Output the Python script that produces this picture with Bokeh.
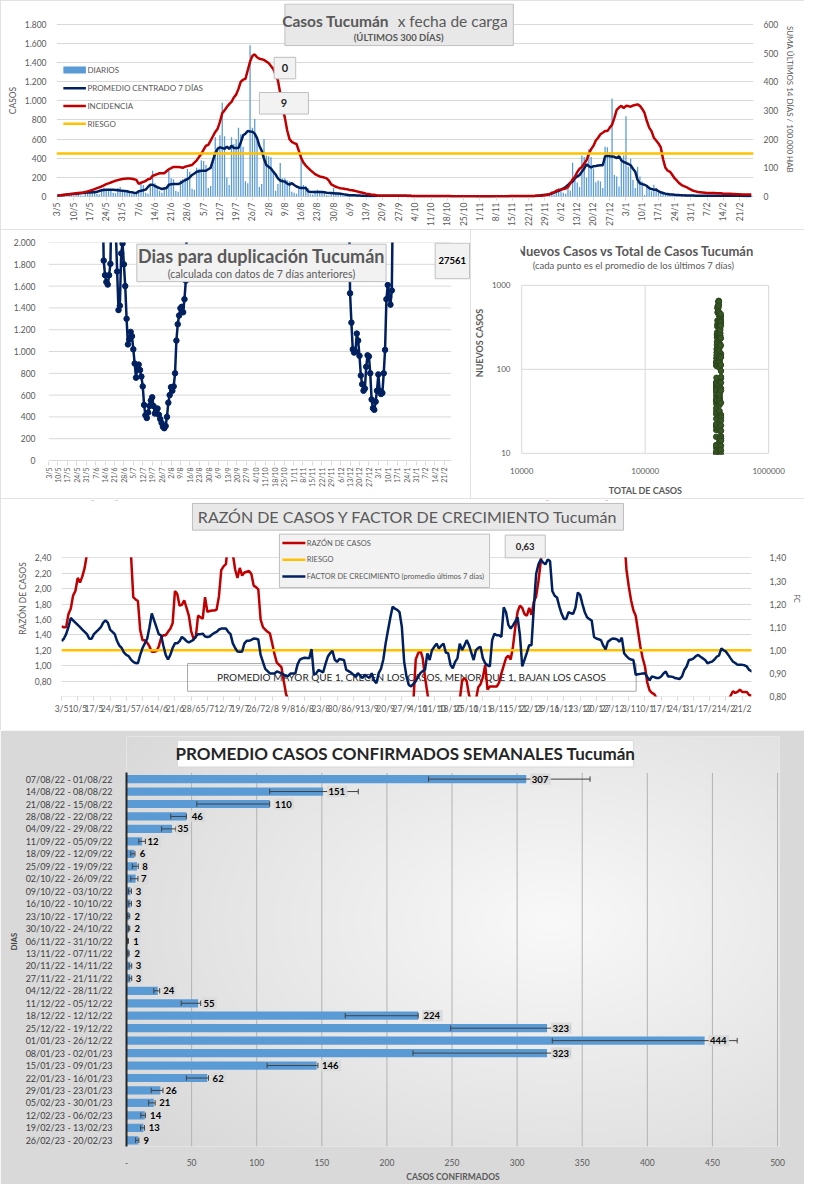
import numpy as np
import pandas as pd
from bokeh.plotting import figure
from bokeh.layouts import column, row
from bokeh.models import Range1d, LinearAxis, FixedTicker, ColumnDataSource, Span, CustomJSTickFormatter
from bokeh.core.properties import value
from bokeh.embed import file_html
from bokeh.resources import INLINE

nan = float("nan")

# ------------------------------------------------------------------ DATA
date_labels = ["3/5", "10/5", "17/5", "24/5", "31/5", "7/6", "14/6", "21/6", "28/6", "5/7", "12/7",
               "19/7", "26/7", "2/8", "9/8", "16/8", "23/8", "30/8", "6/9", "13/9", "20/9", "27/9",
               "4/10", "11/10", "18/10", "25/10", "1/11", "8/11", "15/11", "22/11", "29/11", "6/12",
               "13/12", "20/12", "27/12", "3/1", "10/1", "17/1", "24/1", "31/1", "7/2", "14/2", "21/2"]

# casos diarios (3/5/2022 ... 26/2/2023)
diarios = [
    8, 12, 15, 5, 3, 20, 25,
    30, 35, 28, 10, 8, 45, 50,
    45, 55, 60, 30, 20, 80, 95,
    75, 80, 70, 40, 35, 90, 100,
    60, 55, 50, 35, 25, 40, 45,
    50, 150, 120, 40, 30, 120, 270,
    140, 110, 60, 40, 100, 110, 270,
    190, 180, 60, 50, 170, 180, 190,
    290, 260, 80, 70, 300, 290, 380,
    370, 330, 90, 110, 360, 620, 520,
    640, 980, 630, 200, 120, 620, 550,
    600, 720, 650, 520, 160, 140, 1580,
    720, 810, 580, 100, 130, 600, 430,
    420, 410, 250, 60, 130, 350, 190,
    190, 170, 160, 50, 40, 30, 100,
    460, 120, 110, 90, 25, 20, 60,
    70, 60, 55, 40, 15, 10, 45,
    90, 50, 40, 35, 10, 8, 30,
    20, 15, 12, 10, 4, 3, 12,
    10, 8, 7, 5, 2, 2, 8,
    9, 8, 7, 6, 2, 2, 6,
    9, 8, 9, 7, 3, 2, 6,
    4, 4, 3, 3, 1, 1, 3,
    4, 3, 3, 3, 1, 1, 2,
    3, 2, 2, 2, 1, 1, 2,
    3, 2, 2, 2, 1, 1, 2,
    2, 1, 1, 1, 0, 0, 1,
    2, 2, 2, 2, 1, 1, 2,
    3, 3, 4, 3, 1, 1, 3,
    4, 3, 5, 3, 2, 10, 12,
    15, 20, 30, 54, 20, 72, 88,
    54, 40, 30, 106, 60, 354, 225,
    146, 100, 429, 412, 200, 497, 412,
    293, 150, 167, 157, 90, 521, 514,
    463, 1025, 225, 208, 106, 361, 429,
    838, 310, 395, 174, 88, 310, 208,
    157, 17, 123, 106, 54, 123, 89,
    37, 37, 40, 35, 30, 12, 10,
    25, 20, 18, 15, 12, 5, 4,
    12, 10, 10, 9, 8, 3, 3,
    9, 10, 8, 7, 6, 2, 2,
    7, 8, 7, 6, 5, 2, 2,
    6, 7, 6, 5, 2, 2,
]

promedio_7d = [
    10, 12, 14, 17, 20, 23, 27,
    28, 30, 32, 35, 37, 39, 41,
    42, 44, 45, 50, 58, 65, 68,
    70, 72, 72, 70, 68, 65, 62,
    60, 58, 55, 48, 44, 40, 37,
    55, 60, 66, 72, 100, 123, 123,
    110, 99, 88, 79, 84, 89, 123,
    128, 130, 130, 130, 140, 157, 170,
    181, 200, 225, 240, 259, 265, 269,
    269, 269, 285, 300, 378, 453, 497,
    514, 508, 497, 521, 497, 531, 507,
    507, 507, 565, 640, 657, 685, 680,
    678, 657, 610, 531, 480, 395, 330,
    310, 293, 260, 230, 190, 167, 160,
    157, 135, 123, 140, 120, 105, 95,
    89, 89, 89, 54, 48, 48, 48,
    48, 48, 47, 45, 40, 37, 36,
    35, 32, 31, 28, 25, 20, 17,
    14, 13, 12, 11, 10, 8, 7,
    6, 6, 6, 6, 6, 7, 7,
    8, 8, 8, 8, 8, 8, 7,
    7, 7, 7, 7, 6, 5, 4,
    3, 3, 3, 3, 3, 3, 3,
    3, 3, 3, 3, 3, 2, 2,
    2, 2, 2, 2, 2, 2, 2,
    2, 2, 2, 2, 2, 2, 1,
    1, 1, 1, 1, 1, 1, 1,
    2, 2, 2, 2, 2, 2, 2,
    3, 3, 3, 3, 3, 3, 3,
    3, 3, 4, 6, 9, 12, 15,
    17, 20, 24, 30, 40, 51, 60,
    72, 85, 100, 120, 146, 157, 190,
    208, 225, 260, 293, 337, 317, 303,
    317, 320, 324, 327, 327, 419, 426,
    422, 419, 415, 402, 422, 378, 361,
    351, 340, 327, 290, 259, 174, 139,
    130, 123, 110, 88, 78, 72, 72,
    55, 44, 37, 30, 27, 22, 20,
    18, 17, 15, 14, 12, 11, 10,
    10, 10, 9, 9, 8, 8, 8,
    8, 8, 8, 8, 8, 8, 7,
    7, 7, 7, 7, 7, 7, 7,
    7, 7, 6, 6, 6, 5,
]

# incidencia: suma ultimos 14 dias / 100.000 hab
incidencia = [
    3, 4, 5, 6, 7, 8, 9,
    10, 11, 12, 13, 14, 16, 18,
    20, 23, 26, 29, 32, 35, 39,
    43, 46, 49, 52, 55, 57, 59,
    61, 62, 63, 63, 62, 60, 58,
    44, 48, 51, 54, 60, 62, 72,
    75, 78, 81, 81, 81, 88, 95,
    99, 103, 103, 103, 102, 100, 104,
    106, 108, 110, 118, 126, 138, 149,
    163, 177, 180, 195, 210, 225, 236,
    260, 290, 300, 312, 322, 330, 345,
    355, 375, 400, 407, 410, 440, 470,
    490, 495, 485, 480, 478, 476, 470,
    465, 455, 444, 425, 404, 360, 310,
    274, 230, 200, 190, 186, 183, 160,
    135, 118, 108, 100, 92, 85, 78,
    74, 70, 68, 66, 63, 55, 42,
    38, 34, 31, 29, 28, 26, 25,
    23, 22, 20, 18, 16, 14, 12,
    10, 9, 7, 6, 5, 3, 3,
    3, 3, 3, 3, 3, 3, 3,
    3, 3, 3, 3, 3, 3, 2,
    2, 2, 2, 2, 2, 2, 2,
    2, 2, 2, 2, 2, 2, 2,
    2, 2, 1, 1, 1, 1, 1,
    1, 1, 1, 1, 1, 1, 1,
    1, 1, 1, 1, 1, 1, 1,
    1, 1, 1, 1, 1, 1, 2,
    2, 2, 2, 2, 2, 2, 2,
    2, 2, 2, 3, 3, 3, 3,
    5, 6, 8, 12, 15, 20, 22,
    24, 26, 28, 33, 46, 60, 69,
    85, 97, 103, 115, 126, 149, 165,
    177, 195, 205, 217, 222, 228, 228,
    240, 250, 274, 302, 310, 316, 308,
    316, 315, 313, 317, 319, 321, 316,
    305, 291, 263, 240, 228, 205, 195,
    185, 171, 130, 100, 90, 86, 75,
    63, 55, 46, 40, 36, 33, 28,
    24, 20, 18, 16, 15, 14, 13,
    12, 12, 12, 12, 11, 11, 11,
    10, 10, 10, 10, 9, 9, 8,
    8, 7, 7, 7, 7, 7,
]
riesgo_incidencia = 150

# dias para duplicacion (solo tramos con datos)
dias_duplicacion = ([nan] * 40 + [
    2600, 1834, 1700, 1638, 1614, 1700, 1804, 2600, 3200, 3000,
    2100, 1734, 1380, 1420, 1900, 1990, 1800, 1600, 1300, 1065,
    1110, 1180, 1140, 1020, 890, 760, 850, 880, 830, 770,
    680, 510, 416, 390, 440, 500, 550, 580, 500, 431,
    460, 477, 420, 380, 345, 310, 296, 317, 400, 530,
    600, 673, 640, 680, 800, 1100, 1250, 1330, 1397, 1410,
    1360, 1480, 1650, 2400] + [nan] * 119 + [
    2600, 1534, 1265, 1020, 990, 1000, 1165, 1100, 960, 780,
    700, 640, 660, 860, 965, 955, 800, 560, 480, 465,
    540, 640, 790, 640, 610, 620, 800, 1015, 1480, 1610,
    1500, 1430, 1560, 2600] + [nan] * 43)

razon_casos = [
    1.51, 1.50, 1.50, 1.67, 1.74, 1.91, 1.97, 2.14, 2.08, 2.16, 2.27, 2.45,
    2.7, 3.0, 3.3, 3.6, 3.9, 4.1, 4.2, 4.1, 3.9, 3.7, 3.5, 3.3, 3.1, 3.0, 2.9, 2.8, 2.7, 2.6,
    2.45, 1.89, 1.86, 1.84, 1.46, 1.33, 1.33, 1.30, 1.25, 1.18, 1.18, 1.19,
    1.25, 1.36, 1.395, 1.395, 1.44, 1.48, 1.55, 1.97, 1.93, 1.78,
    1.79, 1.85, 1.75, 1.65, 1.45, 1.35, 1.37, 1.65, 1.63, 1.61,
    1.89, 1.70, 1.71, 1.716, 1.716, 1.73, 1.90, 2.24, 2.29, 2.32,
    2.6, 2.6, 2.45, 2.25, 2.14, 2.27, 2.17, 2.21, 2.22, 2.23,
    2.19, 2.04, 2.02, 1.99, 1.60, 1.50, 1.47, 1.44, 1.42, 1.29,
    1.15, 1.04, 1.01, 0.98, 0.80, 0.63,
    0.55, 0.50, 0.47, 0.45, 0.42, 0.40, 0.38, 0.37, 0.36, 0.35,
    0.34, 0.33, 0.33, 0.32, 0.32, 0.31, 0.31, 0.30, 0.30, 0.30,
    0.30, 0.29, 0.29, 0.28, 0.28, 0.28, 0.27, 0.27, 0.27, 0.26,
    0.26, 0.26, 0.27, 0.28, 0.30, 0.32, 0.35, 0.38, 0.40, 0.42,
    0.45, 0.47, 0.50, 0.52, 0.53, 0.54, 0.54, 0.53, 0.52, 0.52,
    0.51, 0.50, 0.50, 0.52, 0.54,
    1.08, 1.16, 1.20, 1.10, 0.85, 0.65, 0.45,
    0.45, 0.42, 0.40, 0.40, 0.41, 0.43, 0.45, 0.48, 0.50, 0.52, 0.53, 0.54, 0.55,
    0.80, 0.84, 0.80, 0.62,
    0.55, 0.52, 0.56,
    0.72, 0.76, 0.85, 1.01, 0.69, 0.73, 0.73, 0.73, 0.73, 0.78,
    0.90, 1.0, 1.10, 1.13, 1.08, 1.25, 1.50, 1.70, 1.78, 1.75,
    1.67, 1.65, 1.75, 1.66, 1.83, 1.90, 2.10, 2.35, 2.7,
    2.9, 3.2, 3.5, 3.8, 4.1, 4.3, 4.5, 4.6, 4.7, 4.8,
    4.9, 5.0, 5.1, 5.0, 4.9, 4.8, 4.6, 4.4, 4.2, 4.0,
    3.8, 3.7, 3.6, 3.5, 3.4, 3.3, 3.2, 3.1, 3.0, 2.95,
    2.9, 2.85, 2.8, 2.75,
    2.7, 2.25, 2.03, 1.85, 1.72, 1.65, 1.45, 1.25, 1.10, 0.99, 0.78, 0.68, 0.647, 0.63, 0.58,
    0.55, 0.52, 0.50, 0.48, 0.47, 0.46, 0.45, 0.45, 0.46, 0.47,
    0.48, 0.49, 0.50, 0.51, 0.52, 0.53, 0.54, 0.54, 0.53, 0.52,
    0.52, 0.51, 0.50, 0.50, 0.51, 0.52, 0.53, 0.54, 0.54, 0.55, 0.55,
    0.61, 0.668, 0.647, 0.66, 0.69, 0.66, 0.66, 0.66, 0.62, 0.61, nan,
]

factor_crecimiento = [
    1.04, 1.05, 1.07, 1.10, 1.14, 1.13, 1.12, 1.11, 1.10, 1.09,
    1.08, 1.07, 1.05, 1.05, 1.07, 1.08, 1.09, 1.10, 1.12, 1.13,
    1.12, 1.09, 1.08, 1.07, 1.04, 1.02, 1.01, 0.99, 0.98, 0.975,
    0.96, 0.95, 0.945, 0.944, 0.98, 1.01, 1.03, 1.05, 1.10, 1.16,
    1.13, 1.10, 1.07, 1.065, 1.02, 0.98, 0.96, 0.98, 1.01, 1.03,
    1.03, 1.04, 1.058, 1.05, 1.04, 1.034, 1.04, 1.045, 1.06, 1.07,
    1.07, 1.072, 1.06, 1.058, 1.06, 1.068, 1.075, 1.08, 1.09, 1.094,
    1.094, 1.094, 1.08, 1.07, 1.03, 1.01, 0.995, 0.994, 0.994, 1.03,
    1.041, 1.041, 1.045, 1.051, 1.05, 1.047, 0.98, 0.95, 0.92, 0.91,
    0.90, 0.90, 0.90, 0.908, 0.905, 0.90, 0.895, 0.887, 0.89, 0.90,
    0.90, 0.90, 0.94, 0.96, 0.965, 0.968, 0.967, 0.965, 1.005, 0.894,
    0.90, 0.915, 0.91, 0.904, 0.94, 0.972, 0.987, 0.998, 0.96, 0.95,
    0.962, 0.96, 0.958, 0.915, 0.91, 0.904, 0.895, 0.887, 0.901, 0.89,
    0.880, 0.894, 0.887, 0.880, 0.901, 0.87, 0.858, 0.901, 0.92, 0.96,
    1.03, 1.086, 1.14, 1.189, 1.18, 1.175, 1.165, 1.101, 0.95, 0.887,
    0.85, 0.844, 0.855, 0.866, 0.885, 0.901, 0.91, 0.915, 0.987, 0.958,
    1.0, 1.015, 1.029, 1.008, 1.02, 1.029, 0.99, 0.987, 0.937, 0.922,
    0.95, 0.965, 1.029, 1.001, 1.02, 1.044, 1.022, 0.99, 0.958, 1.001,
    1.01, 1.015, 0.965, 0.944, 0.935, 0.93, 1.044, 1.072, 1.065, 1.065,
    1.058, 1.186, 1.165, 1.11, 1.094, 1.108, 1.125, 1.143, 1.065, 0.93,
    0.96, 0.99, 1.022, 1.022, 1.186, 1.33, 1.372, 1.393, 1.38, 1.372,
    1.393, 1.386, 1.257, 1.236, 1.229, 1.19, 1.158, 1.136, 1.136, 1.165,
    1.16, 1.158, 1.186, 1.250, 1.240, 1.20, 1.165, 1.143, 1.135, 1.129,
    1.058, 1.051, 1.048, 1.044, 1.02, 1.004, 1.037, 1.045, 1.051, 1.05,
    1.047, 1.037, 1.055, 0.987, 0.975, 0.965, 0.96, 0.958, 0.894, 0.896,
    0.898, 0.90, 0.901, 0.885, 0.870, 0.887, 0.884, 0.880, 0.880, 0.887,
    0.90, 0.908, 0.887, 0.887, 0.885, 0.880, 0.878, 0.876, 0.887, 0.915,
    0.93, 0.958, 0.96, 0.965, 0.975, 0.980, 0.972, 0.965, 0.958, 0.944,
    0.948, 0.951, 0.96, 0.972, 0.978, 1.008, 1.0, 0.994, 0.98, 0.965,
    0.951, 0.945, 0.937, 0.937, 0.937, 0.935, 0.930, 0.915, 0.91, 0.905,
]
riesgo_razon = 1.2

casos_acumulados_inicio = 376000

week_labels = ["07/08/22 - 01/08/22", "14/08/22 - 08/08/22", "21/08/22 - 15/08/22", "28/08/22 - 22/08/22",
               "04/09/22 - 29/08/22", "11/09/22 - 05/09/22", "18/09/22 - 12/09/22", "25/09/22 - 19/09/22",
               "02/10/22 - 26/09/22", "09/10/22 - 03/10/22", "16/10/22 - 10/10/22", "23/10/22 - 17/10/22",
               "30/10/22 - 24/10/22", "06/11/22 - 31/10/22", "13/11/22 - 07/11/22", "20/11/22 - 14/11/22",
               "27/11/22 - 21/11/22", "04/12/22 - 28/11/22", "11/12/22 - 05/12/22", "18/12/22 - 12/12/22",
               "25/12/22 - 19/12/22", "01/01/23 - 26/12/22", "08/01/23 - 02/01/23", "15/01/23 - 09/01/23",
               "22/01/23 - 16/01/23", "29/01/23 - 23/01/23", "05/02/23 - 30/01/23", "12/02/23 - 06/02/23",
               "19/02/23 - 13/02/23", "26/02/23 - 20/02/23"]
week_avg = [307, 151, 110, 46, 35, 12, 6, 8, 7, 3, 3, 2, 2, 1, 2, 3, 3, 24, 55, 224, 323, 444, 323, 146, 62, 26, 21, 14, 13, 9]
err_low = [232, 110, 54, 34, 27, 9.5, 3.3, 4.5, 3.3, 1.5, 1.8, 1.0, 1.5, 0.8, 1.0, 2.0, 2.0, 21, 42, 168,
           249, 327, 220, 108, 46, 19, 17, 11, 10.8, 7]
err_high = [356, 178, 110, 46, 38, 14.5, 6.5, 9, 8.8, 3.8, 3.8, 2.5, 2.5, 1.5, 2.0, 4.0, 4.0, 25.5, 57, 224,
            341, 469, 341, 147, 63, 28, 22, 14.5, 13.8, 9.5]

ticks_casos = [0, 200, 400, 600, 800, 1000, 1200, 1400, 1600, 1800]
ticks_incid = [0, 100, 200, 300, 400, 500, 600]
ticks_dup = [0, 200, 400, 600, 800, 1000, 1200, 1400, 1600, 1800, 2000]
ticks_razon = [0.6, 0.8, 1.0, 1.2, 1.4, 1.6, 1.8, 2.0, 2.2, 2.4]
ticks_fc = [0.8, 0.9, 1.0, 1.1, 1.2, 1.3, 1.4]
ticks_semana = [0, 50, 100, 150, 200, 250, 300, 350, 400, 450, 500]


def fit300(a):
    a = list(a)[:300]
    return np.array(a + [nan] * (300 - len(a)), dtype=float)


diarios = fit300(diarios)
promedio_7d = fit300(promedio_7d)
incidencia = fit300(incidencia)
dias_duplicacion = fit300(dias_duplicacion)
razon_casos = fit300(razon_casos)
factor_crecimiento = fit300(factor_crecimiento)
days = np.arange(300)
date_ticks = [7 * i for i in range(len(date_labels))]

# ------------------------------------------------------------------ STYLE / HELPERS
FONT = "Lato"
TXT = "#595959"
GRID = "#d9d9d9"
SX = 804 / 820
SY = 1184 / 1200

THOUS = CustomJSTickFormatter(code="""
const t = Math.round(tick);
if (t >= 1000) { return Math.floor(t/1000) + "." + String(t % 1000).padStart(3, "0"); }
return String(t);""")


def comma2():
    return CustomJSTickFormatter(code='return tick.toFixed(2).replace(".", ",");')


def frame(ox, oy, W, H, fl, fr, ft, fb, xa, xb, ya, yb, xlog=False, ylog=False, outline=True):
    def tx(r):
        t = (r - xa) / xb
        return 10 ** t if xlog else t

    def ty(r):
        t = (r - ya) / yb
        return 10 ** t if ylog else t

    p = figure(width=W, height=H,
               x_range=Range1d(tx(fl), tx(fr)), y_range=Range1d(ty(fb), ty(ft)),
               x_axis_type="log" if xlog else "linear",
               y_axis_type="log" if ylog else "linear",
               min_border_left=round((fl - ox) * SX),
               min_border_right=W - round((fr - ox) * SX),
               min_border_top=round((ft - oy) * SY),
               min_border_bottom=H - round((fb - oy) * SY),
               output_backend="svg", toolbar_location=None)
    p.outline_line_color = None
    try:
        p.frame_align = False
    except Exception:
        pass
    if outline:
        try:
            p.styles = {"outline": "1px solid #d9d9d9", "outline-offset": "-1px"}
        except Exception:
            pass
    return p, tx, ty


def style_axis(ax, size, color=TXT, label_size=8, bold_label=False):
    ax.major_label_text_font = FONT
    ax.major_label_text_font_size = f"{size}px"
    ax.major_label_text_color = color
    ax.axis_label_text_font = FONT
    ax.axis_label_text_font_size = f"{label_size}px"
    ax.axis_label_text_font_style = "bold" if bold_label else "normal"
    ax.axis_label_text_color = color
    ax.minor_tick_line_color = None
    ax.major_tick_line_color = None
    ax.axis_line_color = None
    ax.major_label_standoff = 4
    ax.axis_label_standoff = 4


def put_text(p, x, y, s, size, color=TXT, bold=False, align="center", angle=0.0):
    p.text(x=[x], y=[y], text=[s], text_font=value(FONT), text_font_size=value(f"{size}px"),
           text_color=color, text_font_style="bold" if bold else "normal",
           text_align=align, text_baseline="middle", angle=angle)


def put_box(p, l, r, t, b, fill, line):
    p.quad(left=[l], right=[r], top=[t], bottom=[b], fill_color=fill, line_color=line, line_width=1)


# ------------------------------------------------------------------ PANEL A : casos diarios
pA, ax_, ay_ = frame(0, 0, 804, 229, 57, 768, 3, 201.3, 58, 2.367, 200.3, -0.0978)
pA.extra_y_ranges = {"r": Range1d(pA.y_range.start / 3, pA.y_range.end / 3)}
pA.add_layout(LinearAxis(y_range_name="r"), "right")

pA.vbar(x=days, top=diarios, width=0.55, fill_color="#5b9bd5", line_color=None)
pA.line(days, promedio_7d, line_color="#002060", line_width=2.5)
pA.line(days, incidencia, y_range_name="r", line_color="#c00000", line_width=2.5)
pA.add_layout(Span(location=riesgo_incidencia, dimension="width", y_range_name="r",
                   line_color="#ffc000", line_width=2.5))

la = pA.left[0]
style_axis(la, 8.5, label_size=8.5)
la.ticker = FixedTicker(ticks=ticks_casos)
la.formatter = THOUS
la.bounds = (0, 1800)
la.axis_label = "CASOS"
ra = pA.right[0]
style_axis(ra, 8.5, label_size=8)
ra.ticker = FixedTicker(ticks=ticks_incid)
ra.bounds = (0, 600)
ra.axis_label = "SUMA  ÚLTIMOS 14 DÍAS / 100.000 HAB"
ba = pA.below[0]
style_axis(ba, 8.5)
ba.ticker = FixedTicker(ticks=date_ticks)
ba.major_label_overrides = {t: l for t, l in zip(date_ticks, date_labels)}
ba.major_label_orientation = np.pi / 2
ba.major_tick_line_color = GRID
ba.major_tick_out = 3
ba.major_tick_in = 0
ba.major_label_standoff = 2
pA.xgrid.visible = False
pA.ygrid.ticker = FixedTicker(ticks=ticks_casos)
pA.ygrid.grid_line_color = GRID

# legend
put_box(pA, ax_(64), ax_(87), ay_(67.5), ay_(74.5), "#5b9bd5", None)
for yy, col in [(89.7, "#002060"), (107.7, "#c00000"), (126, "#ffc000")]:
    pA.segment(x0=[ax_(64)], y0=[ay_(yy)], x1=[ax_(87)], y1=[ay_(yy)], line_color=col, line_width=2.5)
for yy, s in [(71, "DIARIOS"), (89.7, "PROMEDIO CENTRADO 7 DÍAS"), (107.7, "INCIDENCIA"), (126, "RIESGO")]:
    put_text(pA, ax_(88.5), ay_(yy), s, 8, align="left")
# title
put_box(pA, ax_(290), ax_(523), ay_(3.5), ay_(46), "#e8e8e8", "#bfbfbf")
put_text(pA, ax_(400), ay_(20.5), "Casos  Tucumán", 15.5, bold=True, align="right")
put_text(pA, ax_(405), ay_(20.5), "x fecha de carga", 15.5, align="left")
put_text(pA, ax_(406), ay_(38), "(ÚLTIMOS 300 DÍAS)", 9.5, bold=True)
# value boxes
put_box(pA, ax_(279), ax_(301), ay_(58), ay_(80), "#f2f2f2", "#bfbfbf")
put_text(pA, ax_(290), ay_(69), "0", 11, color="#262626", bold=True)
put_box(pA, ax_(264), ax_(314), ay_(94), ay_(116), "#f2f2f2", "#bfbfbf")
put_text(pA, ax_(289), ay_(105), "9", 11, color="#262626", bold=True)

# ------------------------------------------------------------------ PANEL B : dias para duplicacion
pB, bx, by = frame(0, 232, 470, 269, 49, 479, 245.3, 467.3, 49, 1.3718, 466.3, -0.1105)
pB.xgrid.visible = False
pB.ygrid.visible = False
pB.segment(x0=[0] * len(ticks_dup), y0=ticks_dup, x1=[bx(459.3)] * len(ticks_dup), y1=ticks_dup,
           line_color=GRID, line_width=1)
pB.line(days, dias_duplicacion, line_color="#002060", line_width=2.5)
pB.scatter(days, dias_duplicacion, size=5.5, fill_color="#002060", line_color="#002060")

lb = pB.left[0]
style_axis(lb, 8.5)
lb.ticker = FixedTicker(ticks=ticks_dup)
lb.formatter = THOUS
lb.major_label_standoff = 7
bb = pB.below[0]
style_axis(bb, 7)
bb.ticker = FixedTicker(ticks=date_ticks)
bb.major_label_overrides = {t: l for t, l in zip(date_ticks, date_labels)}
bb.major_label_orientation = np.pi / 2
bb.major_tick_line_color = GRID
bb.major_tick_out = 4
bb.major_tick_in = 0
bb.major_label_standoff = 2

put_box(pB, bx(139), bx(393), by(247), by(285), "#f2f2f2", "#bfbfbf")
put_text(pB, bx(266), by(258.5), "Dias para duplicación Tucumán", 18, bold=True)
put_text(pB, bx(266), by(277), "(calculada con datos de 7 días anteriores)", 10.5)
put_box(pB, bx(443), bx(478), by(246), by(282), "#f2f2f2", "#bfbfbf")
put_text(pB, bx(460.5), by(264), "27561", 9.5, color="#000000", bold=True)

# ------------------------------------------------------------------ PANEL C : nuevos vs total
total_casos = casos_acumulados_inicio + np.cumsum(np.nan_to_num(diarios))
nuevos_7d = pd.Series(diarios).rolling(7, min_periods=1).mean().to_numpy()

pC, cx, cy = frame(480, 232, 334, 269, 518, 786, 234, 460.5, -10.1, 132.35, 544.6, -85.3, xlog=True, ylog=True)
pC.xgrid.visible = False
pC.ygrid.visible = False
gx = [1e4, 1e5, 1e6]
gy = [10, 100, 1000]
pC.segment(x0=gx, y0=[10] * 3, x1=gx, y1=[1000] * 3, line_color=GRID, line_width=1)
pC.segment(x0=[1e4] * 3, y0=gy, x1=[1e6] * 3, y1=gy, line_color=GRID, line_width=1)
pC.scatter(total_casos, nuevos_7d, size=5.5, fill_color="#375623", line_color="#2b451b")

lc = pC.left[0]
style_axis(lc, 8, label_size=9, bold_label=True)
lc.ticker = FixedTicker(ticks=gy)
lc.major_label_overrides = {10: "10", 100: "100", 1000: "1000"}
lc.bounds = (10, 1000)
lc.axis_label = "NUEVOS CASOS"
bc = pC.below[0]
style_axis(bc, 8, label_size=9, bold_label=True)
bc.ticker = FixedTicker(ticks=gx)
bc.major_label_overrides = {10000: "10000", 100000: "100000", 1000000: "1000000"}
bc.axis_label = "TOTAL DE CASOS"
bc.major_label_standoff = 7
bc.axis_label_standoff = 8

put_text(pC, cx(641), cy(254), "Nuevos Casos vs Total de Casos Tucumán", 13, bold=True)
put_text(pC, cx(639), cy(268.5), "(cada punto es el promedio de los últimos 7 días)", 9.5)

# ------------------------------------------------------------------ PANEL D : razon y factor
pD, dx, dy = frame(0, 505, 804, 232, 62, 768, 507, 705.3, 62, 2.369, 752.04, -77.9)
r0, r1 = pD.y_range.start, pD.y_range.end
pD.extra_y_ranges = {"fc": Range1d(0.8 + (r0 - 0.6) / 3, 0.8 + (r1 - 0.6) / 3)}
pD.add_layout(LinearAxis(y_range_name="fc"), "right")
pD.xgrid.visible = False
pD.ygrid.ticker = FixedTicker(ticks=ticks_razon)
pD.ygrid.grid_line_color = GRID

put_box(pD, dx(191), dx(650), dy(672), dy(700), None, "#a6a6a6")
put_text(pD, dx(420), dy(686), "PROMEDIO MAYOR QUE 1, CRECEN LOS CASOS, MENOR QUE 1, BAJAN LOS CASOS", 10,
         color="#262626")
pD.line(days, razon_casos, line_color="#c00000", line_width=2.5)
pD.line([days[0], days[-1]], [riesgo_razon, riesgo_razon], line_color="#ffc000", line_width=2.5)
pD.line(days, factor_crecimiento, y_range_name="fc", line_color="#002060", line_width=2.5)
# area above the plot (lines are clipped at 2,40)
put_box(pD, dx(55), dx(775), dy(500), dy(564.4), "#ffffff", None)

ld = pD.left[0]
style_axis(ld, 8.5, label_size=8.5)
ld.ticker = FixedTicker(ticks=ticks_razon)
ld.formatter = comma2()
ld.bounds = (0.6, 2.4)
ld.axis_label = "RAZÓN DE CASOS"
rd = pD.right[0]
style_axis(rd, 8.5, label_size=7)
rd.ticker = FixedTicker(ticks=ticks_fc)
rd.formatter = comma2()
rd.bounds = (0.8, 1.4)
rd.axis_label = "FC"
rd.major_label_standoff = 12
bd = pD.below[0]
style_axis(bd, 8.5)
bd.ticker = FixedTicker(ticks=date_ticks)
bd.major_label_overrides = {t: l for t, l in zip(date_ticks, date_labels)}
bd.major_tick_line_color = GRID
bd.major_tick_out = 4
bd.major_tick_in = 0
bd.major_label_standoff = 3

put_box(pD, dx(196), dx(637), dy(510), dy(537), "#e8e8e8", "#bfbfbf")
put_text(pD, dx(416.5), dy(523.5), "RAZÓN DE CASOS Y FACTOR DE CRECIMIENTO Tucumán", 16)
put_box(pD, dx(285), dx(500), dy(541), dy(595), "#f2f2f2", "#bfbfbf")
for yy, col, s in [(550, "#c00000", "RAZÓN DE CASOS"), (567, "#ffc000", "RIESGO"),
                   (584, "#002060", "FACTOR DE CRECIMIENTO (promedio últimos 7 días)")]:
    pD.segment(x0=[dx(288)], y0=[dy(yy)], x1=[dx(311.5)], y1=[dy(yy)], line_color=col, line_width=2.5)
    put_text(pD, dx(313), dy(yy), s, 7.5, align="left")
put_box(pD, dx(516), dx(557), dy(542), dy(565), "#f2f2f2", "#bfbfbf")
put_text(pD, dx(536.5), dy(553.5), "0,63", 9.5, color="#262626", bold=True)

# ------------------------------------------------------------------ PANEL E : promedio semanal
pE, ex, ey = frame(0, 740, 804, 454, 129, 795, 746, 1162.77, 129, 1.328, 789.3, 12.66, outline=False)
pE.background_fill_color = "#e6e6e6"
pE.border_fill_color = "#d9d9d9"
pE.xgrid.visible = False
pE.ygrid.visible = False

# soft radial background shading of the chart area (styling only)
nx, ny = 200, 120
gxs, gys = np.meshgrid(np.linspace(0, 1, nx), np.linspace(0, 1, ny))
dist = np.sqrt(((gxs - 0.65) / 0.75) ** 2 + ((gys - 0.45) / 0.75) ** 2)
gray = np.clip(249 - 30 * dist, 200, 255).astype(np.uint8)
bg = np.empty((ny, nx), dtype=np.uint32)
bgv = bg.view(dtype=np.uint8).reshape((ny, nx, 4))
bgv[..., 0] = gray
bgv[..., 1] = gray
bgv[..., 2] = gray
bgv[..., 3] = 255
pE.image_rgba(image=[bg], x=ex(129), y=ey(746), dw=ex(795) - ex(129), dh=ey(1162.77) - ey(746))

rows = list(range(len(week_labels)))
gvals = ticks_semana[1:]
pE.segment(x0=gvals, y0=[-0.5] * len(gvals), x1=gvals, y1=[len(rows) - 0.5] * len(gvals),
           line_color="#b3b3b3", line_width=1)
pE.hbar(y=rows, right=week_avg, left=0, height=0.66, fill_color="#5b9bd5", line_color=None)
ry = np.array(rows, dtype=float)
pE.segment(x0=err_low, y0=ry, x1=err_high, y1=ry, line_color="#404040", line_width=1)
pE.segment(x0=err_low, y0=ry - 0.22, x1=err_low, y1=ry + 0.22, line_color="#404040", line_width=1)
pE.segment(x0=err_high, y0=ry - 0.22, x1=err_high, y1=ry + 0.22, line_color="#404040", line_width=1)

lab_txt = [str(v) for v in week_avg]
px = 1.0 / 1.328  # data units per reference pixel
lab_left = [v + 4 * px for v in week_avg]
lab_right = [l + (len(t) * 6.0 + 3) * px for l, t in zip(lab_left, lab_txt)]
pE.quad(left=lab_left, right=lab_right, top=ry - 0.45, bottom=ry + 0.45, fill_color="#d9d9d9",
        fill_alpha=0.9, line_color=None)
pE.text(x=[v + 5.5 * px for v in week_avg], y=ry, text=lab_txt, text_font=value(FONT),
        text_font_size=value("9.5px"), text_font_style="bold", text_color="#000000",
        text_align="left", text_baseline="middle")

le = pE.left[0]
style_axis(le, 9, color="#404040", label_size=7.5, bold_label=True)
le.ticker = FixedTicker(ticks=rows)
le.major_label_overrides = {i: s for i, s in enumerate(week_labels)}
le.axis_line_color = "#262626"
le.axis_line_width = 2
le.bounds = (-0.5, len(rows) - 0.5)
le.axis_label = "DIAS"
le.major_label_standoff = 8
be = pE.below[0]
style_axis(be, 8.5, label_size=8.5, bold_label=True)
be.ticker = FixedTicker(ticks=ticks_semana)
be.formatter = CustomJSTickFormatter(code='return tick == 0 ? "-" : String(tick);')
be.axis_label = "CASOS CONFIRMADOS"
be.major_label_standoff = 6
be.axis_label_standoff = 3

put_box(pE, ex(181), ex(646), ey(750), ey(777), "#ffffff", "#d9d9d9")
put_text(pE, ex(413.5), ey(763.5), "PROMEDIO CASOS CONFIRMADOS SEMANALES Tucumán", 17, color="#262626", bold=True)

layout = column(pA, row(pB, pC), pD, pE)
open("out.html", "w").write(file_html(layout, INLINE))
